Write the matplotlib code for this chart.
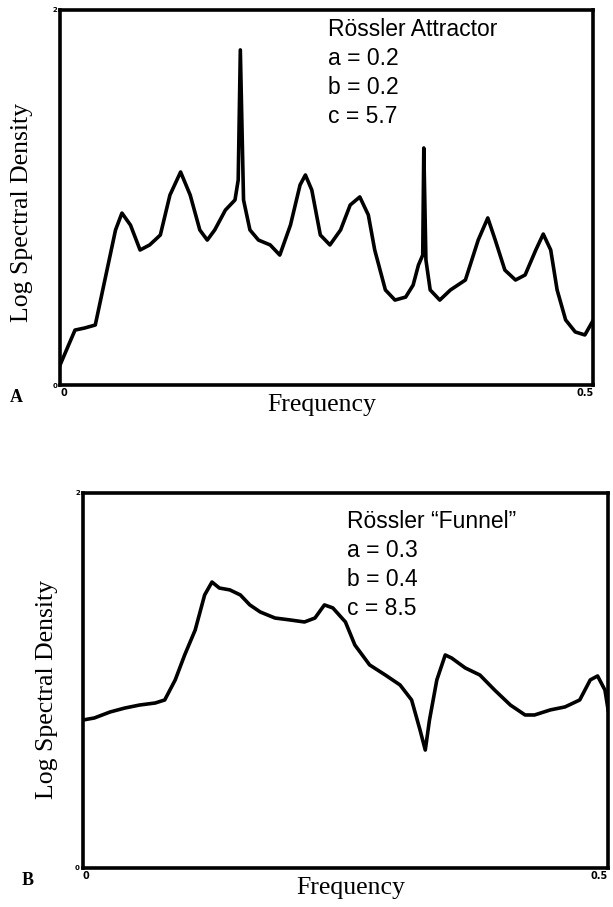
import numpy as np
from matplotlib import pyplot as plt

# panel A: Rossler attractor spectrum (frequency, log spectral density)
freq_a = [0.000, 0.014, 0.023, 0.033, 0.042, 0.052, 0.058, 0.066, 0.075, 0.084,
          0.094, 0.103, 0.113, 0.122, 0.131, 0.138, 0.145, 0.155, 0.164, 0.167,
          0.169, 0.172, 0.178, 0.186, 0.197, 0.206, 0.216, 0.225, 0.230, 0.236,
          0.244, 0.253, 0.263, 0.272, 0.281, 0.289, 0.295, 0.305, 0.314, 0.324,
          0.331, 0.336, 0.340, 0.341, 0.343, 0.347, 0.356, 0.366, 0.380, 0.392,
          0.401, 0.408, 0.417, 0.427, 0.436, 0.446, 0.453, 0.460, 0.466, 0.474,
          0.483, 0.492, 0.500]
dens_a = [0.107, 0.293, 0.304, 0.320, 0.560, 0.827, 0.917, 0.853, 0.720, 0.747,
          0.800, 1.013, 1.136, 1.013, 0.827, 0.773, 0.827, 0.933, 0.987, 1.093,
          1.787, 0.987, 0.827, 0.773, 0.747, 0.693, 0.853, 1.067, 1.120, 1.040,
          0.800, 0.747, 0.827, 0.960, 1.003, 0.907, 0.720, 0.507, 0.453, 0.469,
          0.533, 0.640, 0.693, 1.264, 0.667, 0.507, 0.453, 0.507, 0.560, 0.773,
          0.891, 0.773, 0.613, 0.560, 0.587, 0.720, 0.805, 0.720, 0.507, 0.347,
          0.283, 0.267, 0.347]

# panel B: Rossler "funnel" spectrum
freq_b = [0.000, 0.011, 0.026, 0.040, 0.054, 0.069, 0.078, 0.088, 0.097, 0.107,
          0.116, 0.123, 0.130, 0.140, 0.150, 0.159, 0.169, 0.183, 0.197, 0.211,
          0.221, 0.230, 0.238, 0.250, 0.259, 0.273, 0.288, 0.302, 0.313, 0.321,
          0.326, 0.330, 0.337, 0.345, 0.351, 0.364, 0.378, 0.392, 0.407, 0.421,
          0.430, 0.445, 0.459, 0.473, 0.483, 0.490, 0.497, 0.500]
dens_b = [0.789, 0.800, 0.832, 0.853, 0.869, 0.880, 0.896, 1.003, 1.136, 1.269,
          1.456, 1.525, 1.493, 1.483, 1.456, 1.403, 1.365, 1.333, 1.323, 1.312,
          1.333, 1.403, 1.387, 1.312, 1.189, 1.083, 1.029, 0.976, 0.896, 0.736,
          0.629, 0.789, 1.003, 1.136, 1.120, 1.067, 1.029, 0.949, 0.869, 0.816,
          0.816, 0.843, 0.859, 0.896, 1.003, 1.024, 0.949, 0.843]

params_a = ["Rössler Attractor", "a = 0.2", "b = 0.2", "c = 5.7"]
params_b = ["Rössler \u201cFunnel\u201d", "a = 0.3", "b = 0.4", "c = 8.5"]

fig = plt.figure(figsize=(6.13, 9.07), dpi=100)
serif = "Liberation Serif"
sans = "Liberation Sans"


def panel(rect, f, d, params, letter, text_xy, letter_xy, ylab_xy, xlab_x):
    ax = fig.add_axes(rect)
    ax.plot(f, d, color="black", lw=2.6, solid_joinstyle="round")
    ax.set_xlim(0, 0.5)
    ax.set_ylim(0, 2)
    for s in ax.spines.values():
        s.set_linewidth(2.6)
    ax.set_xticks([0, 0.5])
    ax.set_xticklabels(["0", "0.5"], fontsize=7, fontweight="bold")
    ax.set_yticks([0, 2])
    ax.set_yticklabels(["0", "2"], fontsize=5, fontweight="bold")
    ax.tick_params(length=0, pad=2)
    ax.get_xticklabels()[0].set_horizontalalignment("left")
    ax.get_xticklabels()[1].set_horizontalalignment("right")
    ax.set_xlabel("Frequency", family=serif, fontsize=18.5)
    ax.xaxis.set_label_coords(xlab_x, -0.025)
    ax.xaxis.label.set_verticalalignment("top")
    ax.set_ylabel("Log Spectral Density", family=serif, fontsize=18.5)
    ax.yaxis.set_label_coords(*ylab_xy)
    for i, t in enumerate(params):
        ax.text(text_xy[0], text_xy[1] - i * 0.077, t, transform=ax.transAxes,
                family=sans, fontsize=16.5, va="center", ha="left")
    fig.text(letter_xy[0], letter_xy[1], letter, family=serif, fontsize=13,
             fontweight="bold", ha="center", va="center")
    return ax


ax_a = panel([0.098, 0.5755, 0.870, 0.4135], freq_a, dens_a, params_a, "A",
             (0.503, 0.947), (0.026, 0.562), (-0.051, 0.46), 0.49)
ax_b = panel([0.135, 0.043, 0.857, 0.4135], freq_b, dens_b, params_b, "B",
             (0.503, 0.923), (0.045, 0.029), (-0.048, 0.475), 0.51)

fig.savefig("out.png", dpi=100)
